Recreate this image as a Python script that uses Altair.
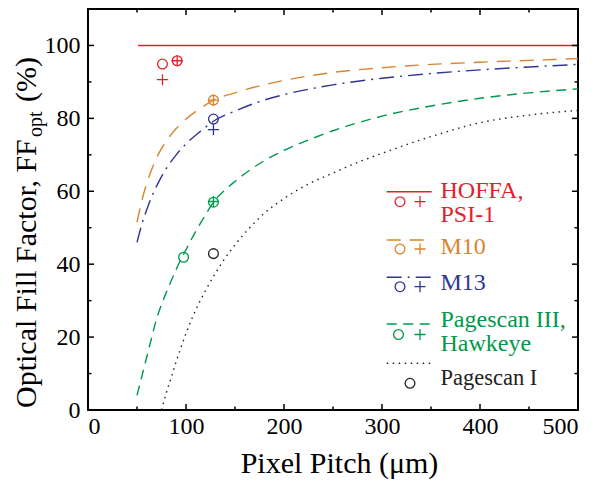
import altair as alt
import pandas as pd

# ---------------- data ----------------
# HOFFA, PSI-1 model line
hoffa_x = [51, 500]
hoffa_y = [100, 100]

# M10 model curve
m10_x = [50, 55, 60, 65, 70, 80, 90, 100, 115, 128, 150, 175, 200, 250, 300, 350, 400, 450, 500]
m10_y = [51.5, 57.5, 62.2, 66.0, 69.2, 73.8, 77.2, 79.8, 82.8, 85.0, 87.0, 88.9, 90.4, 92.6, 93.9, 94.8, 95.4, 95.9, 96.4]

# M13 model curve
m13_x = [50, 55, 60, 65, 70, 80, 90, 100, 115, 128, 150, 175, 200, 250, 300, 350, 400, 450, 500]
m13_y = [46.0, 51.0, 55.0, 58.5, 61.4, 66.3, 70.0, 73.0, 76.5, 79.2, 82.0, 84.6, 86.5, 89.2, 91.0, 92.3, 93.3, 94.1, 94.8]

# Pagescan III, Hawkeye model curve
pg3_x = [50, 55, 60, 65, 70, 75, 80, 85, 90, 100, 110, 120, 128, 140, 150, 165, 180, 200, 230, 250, 300, 350, 400, 450, 500]
pg3_y = [4.0, 9.3, 14.6, 19.9, 25.0, 28.9, 32.3, 35.5, 38.6, 44.0, 49.0, 53.6, 57.0, 60.4, 62.7, 65.8, 68.4, 71.2, 74.6, 76.6, 80.6, 83.4, 85.5, 87.0, 88.1]

# Pagescan I model curve
pg1_x = [75, 80, 85, 90, 95, 100, 110, 120, 130, 140, 150, 165, 180, 200, 225, 250, 275, 300, 325, 350, 400, 450, 500]
pg1_y = [0.0, 4.8, 9.0, 13.3, 17.2, 21.0, 27.5, 32.8, 37.5, 41.7, 45.3, 50.0, 54.0, 58.0, 62.0, 65.0, 67.9, 70.4, 72.8, 75.0, 78.8, 80.9, 82.2]

# measured points: circles and pluses
red_circle_x = [76, 91]
red_circle_y = [94.9, 95.8]
red_plus_x = [76, 91]
red_plus_y = [90.6, 95.8]
orange_circle_x = [128]
orange_circle_y = [85.0]
orange_plus_x = [128]
orange_plus_y = [85.0]
blue_circle_x = [128]
blue_circle_y = [79.8]
blue_plus_x = [128]
blue_plus_y = [76.9]
green_circle_x = [97.5, 128]
green_circle_y = [41.9, 57.0]
green_plus_x = [128]
green_plus_y = [57.2]
black_circle_x = [128]
black_circle_y = [42.9]

# axis ticks
x_major = [0, 100, 200, 300, 400, 500]
x_minor = [50, 150, 250, 350, 450]
y_major = [0, 20, 40, 60, 80, 100]
y_minor = [10, 30, 50, 70, 90]

legend_labels = ["HOFFA,\nPSI-1", "M10", "M13", "Pagescan III,\nHawkeye", "Pagescan I"]

# ---------------- styling ----------------
RED = "#e3212b"
ORANGE = "#d9852e"
BLUE = "#303592"
GREEN = "#00994c"
BLACK = "#222222"
FONT = "Liberation Serif"
W, H = 490, 401
PLUS = "M-1,0L1,0M0,-1L0,1"

xs = alt.Scale(domain=[0, 500], nice=False, zero=False)
ys = alt.Scale(domain=[0, 110], nice=False, zero=False)

ax_x = alt.Axis(values=x_major, ticks=False, tickSize=0, domain=False, grid=False,
                labelFont=FONT, labelFontSize=24, labelColor="black", labelPadding=4,
                title="Pixel Pitch (μm)", titleFont=FONT, titleFontSize=30,
                titleFontWeight="normal", titleColor="black",
                titleX=251, titleY=62, titleAlign="center", titleBaseline="alphabetic")
ax_y = alt.Axis(values=y_major, ticks=False, tickSize=0, domain=False, grid=False,
                labelFont=FONT, labelFontSize=24, labelColor="black", labelPadding=8,
                title=None)

X = alt.X("x:Q", scale=xs, axis=ax_x)
Y = alt.Y("y:Q", scale=ys, axis=ax_y)


def df(a, b):
    return pd.DataFrame({"x": a, "y": b})


one = pd.DataFrame({"k": [0]})

layers = []

# model curves
def curve(xv, yv, color, dash=None):
    kw = dict(color=color, strokeWidth=1.4, interpolate="monotone")
    if dash is not None:
        kw["strokeDash"] = dash
    return alt.Chart(df(xv, yv)).mark_line(**kw).encode(x=X, y=Y)

layers.append(curve(pg1_x, pg1_y, BLACK, [1.5, 4.5]))
layers.append(curve(pg3_x, pg3_y, GREEN, [10, 6.5]))
layers.append(curve(m13_x, m13_y, BLUE, [15, 6, 2, 6]))
layers.append(curve(m10_x, m10_y, ORANGE, [14, 9]))
layers.append(curve(hoffa_x, hoffa_y, RED))

# measured points
def circles(xv, yv, color):
    return alt.Chart(df(xv, yv)).mark_point(shape="circle", filled=False, size=95,
                                            strokeWidth=1.3, color=color, opacity=1).encode(x=X, y=Y)

def pluses(xv, yv, color):
    return alt.Chart(df(xv, yv)).mark_point(shape=PLUS, filled=False, size=125,
                                            strokeWidth=1.3, color=color, opacity=1).encode(x=X, y=Y)

layers += [
    circles(red_circle_x, red_circle_y, RED), pluses(red_plus_x, red_plus_y, RED),
    circles(orange_circle_x, orange_circle_y, ORANGE), pluses(orange_plus_x, orange_plus_y, ORANGE),
    circles(blue_circle_x, blue_circle_y, BLUE), pluses(blue_plus_x, blue_plus_y, BLUE),
    circles(green_circle_x, green_circle_y, GREEN), pluses(green_plus_x, green_plus_y, GREEN),
    circles(black_circle_x, black_circle_y, BLACK),
]

# inward ticks on all four sides
def xticks(vals, length):
    d = pd.DataFrame({"x": vals})
    bottom = alt.Chart(d).mark_rule(color="black", strokeWidth=1.5).encode(
        x=X, y=alt.value(H), y2=alt.value(H - length))
    top = alt.Chart(d).mark_rule(color="black", strokeWidth=1.5).encode(
        x=X, y=alt.value(0), y2=alt.value(length))
    return [bottom, top]

def yticks(vals, length):
    d = pd.DataFrame({"y": vals})
    left = alt.Chart(d).mark_rule(color="black", strokeWidth=1.5).encode(
        y=Y, x=alt.value(0), x2=alt.value(length))
    right = alt.Chart(d).mark_rule(color="black", strokeWidth=1.5).encode(
        y=Y, x=alt.value(W), x2=alt.value(W - length))
    return [left, right]

layers += xticks(x_major, 6) + xticks(x_minor, 3.5) + yticks(y_major, 6) + yticks(y_minor, 3.5)

# y-axis title with subscript, built from rotated text pieces
def ytext(txt, x, y, size):
    return alt.Chart(one).mark_text(angle=270, align="left", baseline="alphabetic", font=FONT,
                                    fontSize=size, color="black").encode(
        x=alt.value(x), y=alt.value(y), text=alt.value(txt))

layers += [ytext("Optical Fill Factor, FF", -52, 399, 30),
           ytext("opt", -46, 128, 20),
           ytext("(%)", -52, 93, 30)]

# legend (custom, inside the plot)
LX1, LX2 = 298.7, 343.7
CX, PX, TX = 312, 332, 352.5
legend_specs = [
    # label, color, dash, line y, symbol y, text y, has plus, circle x, font size
    (legend_labels[0], RED, None, 182.7, 192.7, 188.5, True, CX, 24),
    (legend_labels[1], ORANGE, [14, 9], 231, 240, 244.5, True, CX, 24),
    (legend_labels[2], BLUE, [15, 6, 2, 6], 268.3, 277.7, 281, True, CX, 24),
    (legend_labels[3], GREEN, [10, 6.5], 315, 325.5, 317.5, True, 310.5, 24),
    (legend_labels[4], BLACK, [1.5, 4.5], 354.3, 374.3, 376, False, 322, 22.5),
]
for label, color, dash, ly, sy, ty, has_plus, cx, fs in legend_specs:
    rkw = dict(color=color, strokeWidth=1.4)
    if dash is not None:
        rkw["strokeDash"] = dash
    layers.append(alt.Chart(one).mark_rule(**rkw).encode(
        x=alt.value(LX1), x2=alt.value(LX2), y=alt.value(ly)))
    layers.append(alt.Chart(one).mark_point(shape="circle", filled=False, size=95, strokeWidth=1.3,
                                            color=color, opacity=1).encode(
        x=alt.value(cx), y=alt.value(sy)))
    if has_plus:
        layers.append(alt.Chart(one).mark_point(shape=PLUS, filled=False, size=125, strokeWidth=1.3,
                                                color=color, opacity=1).encode(
            x=alt.value(PX), y=alt.value(sy)))
    layers.append(alt.Chart(one).mark_text(align="left", baseline="alphabetic", font=FONT,
                                           fontSize=fs, color=color, lineBreak="\n",
                                           lineHeight=24).encode(
        x=alt.value(TX), y=alt.value(ty), text=alt.value(label)))

chart = alt.layer(*layers).properties(
    width=W, height=H,
    padding={"left": 80, "top": 1, "right": 10, "bottom": 70},
    autosize=alt.AutoSizeParams(type="none"),
    background="white",
).configure_view(stroke="black", strokeWidth=2)

chart.save("out.html", embed_options={"renderer": "svg", "actions": False})
